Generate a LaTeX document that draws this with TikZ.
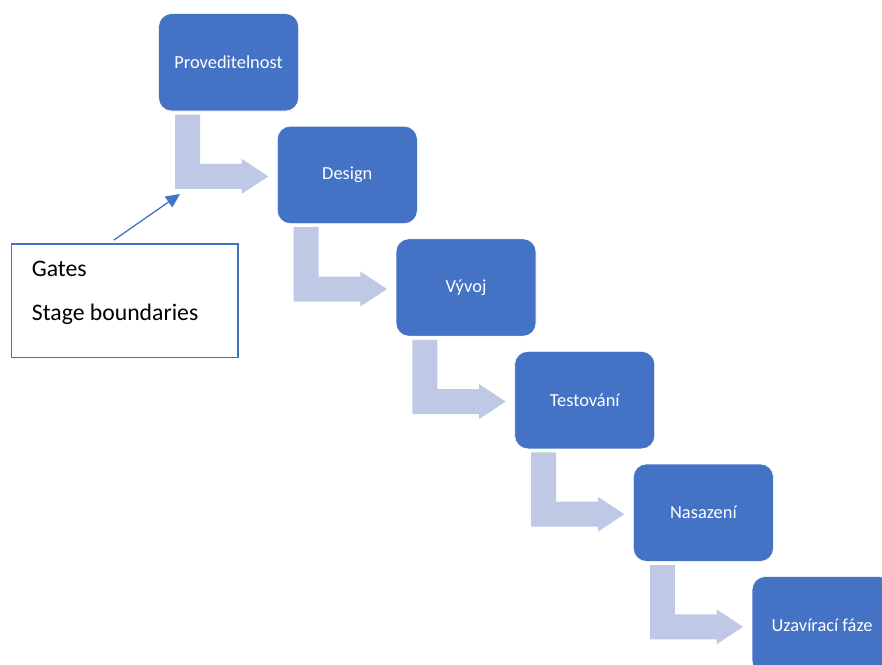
\documentclass[tikz,border=0pt]{standalone}
\usepackage{fontspec}
\setmainfont{Carlito}
\usetikzlibrary{calc,arrows.meta}
\definecolor{boxblue}{HTML}{4472C4}
\definecolor{arrowlight}{RGB}{191,200,228}
\tikzset{
  stagebox/.style={rectangle, rounded corners=13pt, fill=boxblue, draw=white, line width=0.6pt,
    minimum width=140pt, minimum height=97.4pt, inner sep=0pt, text=white,
    font=\fontsize{18.4pt}{21pt}\selectfont},
  bentarrow/.style={fill=arrowlight, draw=none},
  notebox/.style={rectangle, draw=boxblue, line width=1.3pt, minimum width=226.3pt,
    minimum height=113.4pt, inner sep=0pt},
  notetext/.style={anchor=base west, inner sep=0pt, text=black,
    font=\fontsize{23.7pt}{28pt}\selectfont},
  pointer/.style={draw=boxblue, line width=1.3pt, -{Triangle[length=14pt,width=13pt]}}
}
\begin{document}
\begin{tikzpicture}[x=1pt,y=1pt]
\path[use as bounding box, clip] (0,0) rectangle (882,-664);
% stage boxes
\foreach \i/\t in {0/Proveditelnost,1/Design,2/Vývoj,3/Testování,4/Nasazení,5/Uzavírací fáze}{
  \node[stagebox, anchor=north west] (b\i) at ({158.3+118.7*\i},{-(13.3+112.6*\i)}) {\t};
}
% bent arrows between stages
\foreach \i in {0,...,4}{
  \begin{scope}[shift={(b\i.south west)}]
    \fill[bentarrow] (16.7,-3.3) -- (41.7,-3.3) -- (41.7,-52.6) -- (83.4,-52.6) -- (83.4,-47.6)
      -- (110,-65.1) -- (83.4,-82.6) -- (83.4,-77.6) -- (16.7,-77.6) -- cycle;
  \end{scope}
}
% note box
\node[notebox, anchor=north west] (gates) at (11,-243.3) {};
\node[notetext] (t1) at ($(gates.north west)+(20.7,-33.4)$) {Gates};
\node[notetext] (t2) at ($(gates.north west)+(20.7,-76.7)$) {Stage boundaries};
\coordinate (gatetip) at (180,-194);
\draw[pointer] ($(gates.north)+(-10.8,3.3)$) -- (gatetip);
\end{tikzpicture}
\end{document}
